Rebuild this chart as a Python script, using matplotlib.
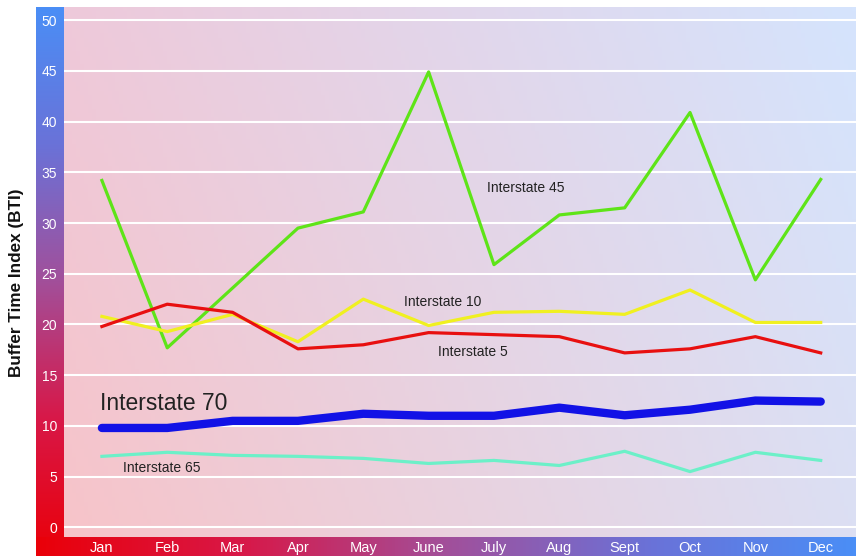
import numpy as np
import matplotlib
matplotlib.use("Agg")
import matplotlib.pyplot as plt
from matplotlib.colors import LinearSegmentedColormap, to_rgb

plt.rcParams['font.family'] = ['Liberation Sans', 'DejaVu Sans']

months = ['Jan', 'Feb', 'Mar', 'Apr', 'May', 'June', 'July', 'Aug', 'Sept', 'Oct', 'Nov', 'Dec']
i45 = [34.2, 17.7, 23.6, 29.5, 31.1, 44.9, 25.9, 30.8, 31.5, 40.9, 24.4, 34.3]
i10 = [20.8, 19.3, 21.0, 18.3, 22.5, 19.9, 21.2, 21.3, 21.0, 23.4, 20.2, 20.2]
i5 = [19.8, 22.0, 21.2, 17.6, 18.0, 19.2, 19.0, 18.8, 17.2, 17.6, 18.8, 17.2]
i70 = [9.8, 9.8, 10.5, 10.5, 11.2, 11.0, 11.0, 11.8, 11.05, 11.6, 12.5, 12.4]
i65 = [7.0, 7.4, 7.1, 7.0, 6.8, 6.3, 6.6, 6.1, 7.5, 5.5, 7.4, 6.6]
yticks = list(range(0, 51, 5))

W, H = 856, 556
fig = plt.figure(figsize=(W / 100, H / 100), dpi=100)


def box(x0, y0, x1, y1):
    return [x0 / W, 1 - y1 / H, (x1 - x0) / W, (y1 - y0) / H]


bar_cmap = LinearSegmentedColormap.from_list('bar', ['#ea0008', '#d81848', '#a24f9a', '#6a72d8', '#4a8ef6'])

# left gradient strip (red at bottom, blue at top)
axl = fig.add_axes(box(36, 7, 64, 556))
axl.imshow(np.linspace(1, 0, 256).reshape(-1, 1), aspect='auto', cmap=bar_cmap,
           extent=[0, 1, 0, 1], vmin=0, vmax=1)
axl.axis('off')

# bottom gradient strip (red at left, blue at right)
axb = fig.add_axes(box(36, 537, 856, 556))
axb.imshow(np.linspace(0, 1, 256).reshape(1, -1), aspect='auto', cmap=bar_cmap,
           extent=[0, 1, 0, 1], vmin=0, vmax=1)
axb.axis('off')

ax = fig.add_axes(box(64, 7, 856, 537))
x = np.arange(len(months))
xlim = (-0.58, 11.54)
ylim = (-0.95, 51.3)

# soft pink-to-blue background
tl, bl = np.array(to_rgb('#eec9da')), np.array(to_rgb('#f7c4c9'))
tr, br = np.array(to_rgb('#d5e4fd')), np.array(to_rgb('#dcdff3'))
u = np.linspace(0, 1, 200)[None, :, None]
v = np.linspace(0, 1, 120)[:, None, None]
bg = (1 - v) * ((1 - u) * tl + u * tr) + v * ((1 - u) * bl + u * br)
ax.imshow(bg, aspect='auto', extent=[xlim[0], xlim[1], ylim[0], ylim[1]], zorder=0)

for t in yticks:
    ax.axhline(t, color='white', lw=1.5, zorder=1)

ax.plot(x, i45, color='#5ee418', lw=2.3, zorder=3)
ax.plot(x, i10, color='#f0f020', lw=2.3, zorder=3)
ax.plot(x, i5, color='#e81010', lw=2.3, zorder=3)
ax.plot(x, i65, color='#6cf0c8', lw=2.3, zorder=3)
ax.plot(x, i70, color='#1212e6', lw=6, solid_capstyle='round', zorder=4)

lab = dict(color='#222222', va='center', ha='left', zorder=5)
ax.text(-0.03, 12.2, 'Interstate 70', fontsize=16.5, **lab)
ax.text(5.89, 33.5, 'Interstate 45', fontsize=10, **lab)
ax.text(4.62, 22.2, 'Interstate 10', fontsize=10, **lab)
ax.text(5.15, 17.3, 'Interstate 5', fontsize=10, **lab)
ax.text(0.32, 5.9, 'Interstate 65', fontsize=10, **lab)

ax.set_xlim(*xlim)
ax.set_ylim(*ylim)
ax.set_xticks(x)
ax.set_xticklabels(months)
ax.set_yticks(yticks)
ax.tick_params(axis='both', length=0, colors='white', labelsize=10)
ax.tick_params(axis='y', pad=5)
ax.tick_params(axis='x', pad=3, labelsize=10.5)
for s in ax.spines.values():
    s.set_visible(False)

fig.text(17 / W, 1 - 283 / H, 'Buffer Time Index (BTI)', rotation=90, fontsize=12.3,
         fontweight='bold', ha='center', va='center', color='#111111')

fig.savefig('out.png', dpi=100)
